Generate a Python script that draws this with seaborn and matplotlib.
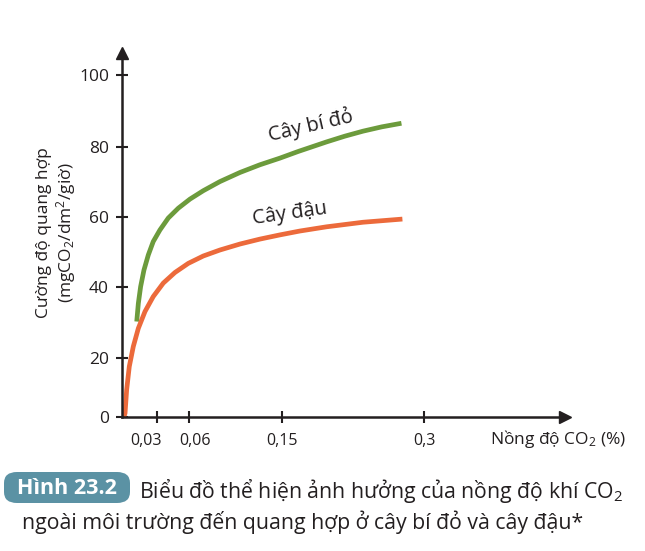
import numpy as np
import pandas as pd
import matplotlib
matplotlib.use("Agg")
import matplotlib.pyplot as plt
import matplotlib.transforms as mtransforms
from matplotlib.patches import FancyBboxPatch
import seaborn as sns

# nồng độ CO2 (%) và cường độ quang hợp
bi_do_x = [0.0126, 0.0140, 0.0160, 0.0189, 0.0227, 0.0270, 0.0330, 0.0407, 0.0499,
           0.0607, 0.0736, 0.0897, 0.1091, 0.1284, 0.1478, 0.1669, 0.1969, 0.2162,
           0.2355, 0.2553, 0.2761]
bi_do_y = [30.3, 35.4, 40.1, 44.8, 49.1, 52.9, 56.2, 59.6, 62.4,
           65.0, 67.4, 70.0, 72.6, 74.8, 76.7, 78.6, 81.3, 82.9,
           84.3, 85.5, 86.5]

dau_x = [0.0015, 0.0024, 0.0038, 0.0061, 0.0096, 0.0140, 0.0198, 0.0270, 0.0361,
         0.0468, 0.0591, 0.0736, 0.0897, 0.1091, 0.1284, 0.1478, 0.1687, 0.1969,
         0.2355, 0.2771]
dau_y = [0.2, 1.4, 9.3, 17.2, 23.3, 28.4, 33.1, 37.3, 41.1,
         44.1, 46.7, 48.8, 50.5, 52.2, 53.6, 54.8, 55.9, 57.1,
         58.4, 59.3]

x_ticks = [0.03, 0.06, 0.15, 0.3]
x_tick_labels = ["0,03", "0,06", "0,15", "0,3"]
y_ticks = [0, 20, 40, 60, 80, 100]

df = pd.concat([
    pd.DataFrame({"co2": bi_do_x, "qh": bi_do_y, "cay": "Cây bí đỏ"}),
    pd.DataFrame({"co2": dau_x, "qh": dau_y, "cay": "Cây đậu"}),
])

sns.set_theme(style="white")
plt.rcParams['font.family'] = ['Open Sans', 'DejaVu Sans']
plt.rcParams['mathtext.fontset'] = 'custom'
plt.rcParams['mathtext.rm'] = 'Open Sans'
plt.rcParams['mathtext.it'] = 'Open Sans:italic'
plt.rcParams['mathtext.bf'] = 'Open Sans:bold'
ink = "#231f20"

# trục vẽ tay không đều -> thang chia từng đoạn
xk_d = [-1.0, 0, 0.03, 0.06, 0.15, 0.3, 1.0]
xk_p = [-1147, 0, 34.4, 67, 160, 302, 964.7]
yk_d = [-100, 0, 20, 40, 60, 80, 100, 300]
yk_p = [-295, 0, 59, 130.3, 200.6, 270.6, 342.3, 1058.3]

fig = plt.figure(figsize=(6.45, 5.51), dpi=100)
ax = fig.add_axes([122.3 / 645, 1 - 417.3 / 551, (565 - 122.3) / 645, (417.3 - 53) / 551])
ax.set_xscale('function', functions=(lambda v: np.interp(v, xk_d, xk_p),
                                     lambda v: np.interp(v, xk_p, xk_d)))
ax.set_yscale('function', functions=(lambda v: np.interp(v, yk_d, yk_p),
                                     lambda v: np.interp(v, yk_p, yk_d)))

sns.lineplot(data=df, x="co2", y="qh", hue="cay", palette=["#6c9b3c", "#ec6a3b"],
             linewidth=3.4, sort=False, estimator=None, legend=False, ax=ax)
for l in ax.lines:
    l.set_solid_capstyle('butt')
    l.set_solid_joinstyle('round')

ax.set_xlim(0, 0.449)
ax.set_ylim(0, 106.1)
ax.set_xticks(x_ticks)
ax.set_xticklabels(x_tick_labels)
ax.set_yticks(y_ticks)
ax.set_xlabel("")
ax.set_ylabel("")
ax.tick_params(direction='inout', length=9, width=1.5, colors=ink, labelsize=11.5,
               bottom=True, left=True)
ax.tick_params(axis='y', labelsize=12.5, pad=5)
ax.tick_params(axis='x', pad=7)
# hai nhãn đầu sát nhau, đẩy ra hai bên như hình gốc
for lab, dx in zip(ax.get_xticklabels()[:2], [-8, 4]):
    lab.set_transform(lab.get_transform() + mtransforms.ScaledTranslation(dx / 72, 0, fig.dpi_scale_trans))
for s in ["top", "right"]:
    ax.spines[s].set_visible(False)
for s in ["left", "bottom"]:
    ax.spines[s].set_color(ink)
    ax.spines[s].set_linewidth(1.8)
ax.plot(1, 0, ">", color=ink, markersize=9, transform=ax.transAxes, clip_on=False)
ax.plot(0, 1, "^", color=ink, markersize=9, transform=ax.transAxes, clip_on=False)
ax.patch.set_alpha(0)

ax.text(0.180, 85.8, "Cây bí đỏ", rotation=13, fontsize=14.5, color=ink, ha='center', va='center')
ax.text(0.158, 60.8, "Cây đậu", rotation=8, fontsize=14.5, color=ink, ha='center', va='center')

fig.text(490 / 645, 1 - 439 / 551, "Nồng độ CO$_2$ (%)", fontsize=12.5, color=ink,
         ha='left', va='center')
fig.text(44 / 645, 1 - 233 / 551, "Cường độ quang hợp", rotation=90, fontsize=12.5,
         color=ink, ha='center', va='center')
fig.text(66 / 645, 1 - 233 / 551, "(mgCO$_2$/dm$^2$/giờ)", rotation=90, fontsize=12.5,
         color=ink, ha='center', va='center')

# chú thích hình
box = FancyBboxPatch((4 / 645, 1 - 503 / 551), 126 / 645, 31 / 551,
                     boxstyle="round,pad=0,rounding_size=0.02", transform=fig.transFigure,
                     facecolor="#5b92a4", edgecolor="none")
fig.patches.append(box)
fig.text(67 / 645, 1 - 488 / 551, "Hình 23.2", fontsize=15.5, fontweight='bold', color='white',
         ha='center', va='center')
fig.text(139 / 645, 1 - 491 / 551, "Biểu đồ thể hiện ảnh hưởng của nồng độ khí CO$_2$",
         fontsize=15.3, color=ink, ha='left', va='center')
fig.text(22 / 645, 1 - 522 / 551, "ngoài môi trường đến quang hợp ở cây bí đỏ và cây đậu*",
         fontsize=15.3, color=ink, ha='left', va='center')

fig.savefig("out.png", dpi=100)
